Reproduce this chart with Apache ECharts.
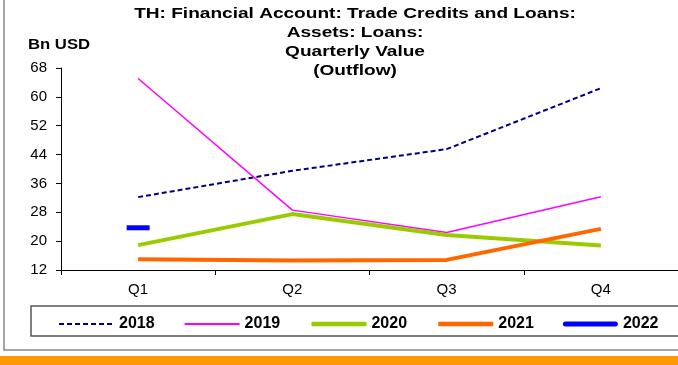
<!DOCTYPE html>
<html>
<head>
<meta charset="utf-8">
<script src="https://cdn.jsdelivr.net/npm/echarts@6/dist/echarts.min.js"></script>
<style>
  html, body { margin: 0; padding: 0; background: #fff; }
  #chart { width: 678px; height: 365px; }
</style>
</head>
<body>
<div id="chart"></div>
<script>
// Quarterly outflow values, Bn USD
const quarters = ['Q1', 'Q2', 'Q3', 'Q4'];
const years = ['2018', '2019', '2020', '2021', '2022'];
const v2018 = [32.2, 39.5, 45.5, 62.4];
const v2019 = [65.1, 28.6, 22.4, 32.3];
const v2020 = [18.9, 27.5, 21.7, 18.8];
const v2021 = [15.0, 14.6, 14.8, 23.4];
const v2022 = [23.7, null, null, null];
const yTicks = [12, 20, 28, 36, 44, 52, 60, 68];

const FONT = 'Liberation Sans, Arial, sans-serif';
const chart = echarts.init(document.getElementById('chart'), null, { renderer: 'canvas' });

const lineSeries = (name, data, color, width, type) => ({
  name: name,
  type: 'line',
  data: data,
  symbol: 'none',
  silent: true,
  animation: false,
  lineStyle: { color: color, width: width, type: type || 'solid' },
  itemStyle: { color: color }
});

const s2022 = {
  name: '2022',
  type: 'line',
  data: v2022,
  symbol: 'rect',
  symbolSize: [23, 5],
  showSymbol: true,
  silent: true,
  animation: false,
  lineStyle: { color: '#0000ff', width: 5 },
  itemStyle: { color: '#0000ff' }
};

chart.setOption({
  animation: false,
  backgroundColor: '#fff',
  textStyle: { fontFamily: FONT },
  grid: { left: 61, top: 68, right: -3, bottom: 95, containLabel: false },
  graphic: [
    { type: 'rect', silent: true, z: -10,
      shape: { x: 4, y: -5, width: 700, height: 355 },
      style: { fill: 'none', stroke: '#8a8a8a', lineWidth: 1.5 } },
    { type: 'rect', silent: true,
      shape: { x: 0, y: 356, width: 678, height: 9 },
      style: { fill: '#ff9900' } },
    { type: 'rect', silent: true, z: -5,
      shape: { x: 31, y: 306, width: 680, height: 30 },
      style: { fill: '#fff', stroke: '#555', lineWidth: 1.5 } },
    // chart title, slightly widened lettering
    { type: 'text', silent: true, x: 355, y: 4, scaleX: 1.23,
      style: {
        text: 'TH: Financial Account: Trade Credits and Loans:\nAssets: Loans:\nQuarterly Value\n(Outflow)',
        textAlign: 'center', textVerticalAlign: 'top',
        fontFamily: FONT, fontSize: 15.5, fontWeight: 'bold', fill: '#000', lineHeight: 19
      } },
    { type: 'text', silent: true, x: 28, y: 37, scaleX: 1.15,
      style: { text: 'Bn USD', fontFamily: FONT, fontSize: 14.5, fontWeight: 'bold', fill: '#000' } }
  ],
  legend: {
    left: 53,
    top: 311,
    itemWidth: 55,
    itemHeight: 5,
    itemGap: 29,
    symbolKeepAspect: false,
    selectedMode: false,
    itemStyle: { opacity: 0 },
    textStyle: { fontFamily: FONT, fontSize: 16, fontWeight: 'bold', color: '#000' },
    data: [
      { name: '2018', lineStyle: { width: 2 } },
      { name: '2019', lineStyle: { width: 2 } },
      { name: '2020', lineStyle: { width: 4.5 } },
      { name: '2021', lineStyle: { width: 4.5 } },
      { name: '2022', icon: 'path://M3,0 L58,0 A3,3 0 0 1 58,6 L3,6 A3,3 0 0 1 3,0 Z',
        itemStyle: { color: '#0000ff', opacity: 1 } }
    ]
  },
  xAxis: {
    type: 'category',
    data: quarters,
    boundaryGap: true,
    axisLine: { lineStyle: { color: '#000', width: 1 } },
    axisTick: { show: true, alignWithLabel: false, length: 5, lineStyle: { color: '#000' } },
    axisLabel: { fontFamily: FONT, fontSize: 15, color: '#000', margin: 12 },
    splitLine: { show: false }
  },
  yAxis: {
    type: 'value',
    min: yTicks[0],
    max: yTicks[yTicks.length - 1],
    interval: 8,
    axisLine: { show: true, lineStyle: { color: '#000', width: 1 } },
    axisTick: { show: true, length: 5, lineStyle: { color: '#000' } },
    axisLabel: { fontFamily: FONT, fontSize: 15, color: '#000', margin: 14 },
    splitLine: { show: false }
  },
  series: [
    lineSeries('2018', v2018, '#000080', 2, [5, 3]),
    lineSeries('2019', v2019, '#ff00ff', 1.5),
    lineSeries('2020', v2020, '#99cc00', 4),
    lineSeries('2021', v2021, '#ff6600', 4),
    s2022
  ]
});
</script>
</body>
</html>
